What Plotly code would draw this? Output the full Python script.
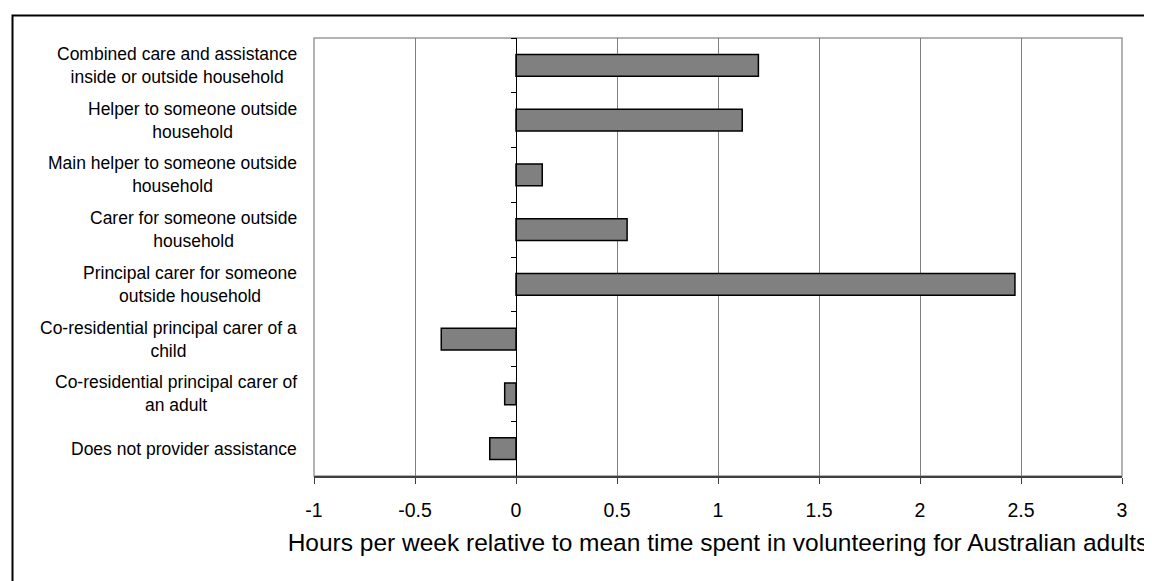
import plotly.graph_objects as go

# ---- data (top to bottom as shown) ----
categories = [
    "Combined care and assistance<br>inside or outside household",
    "Helper to someone outside<br>household",
    "Main helper to someone outside<br>household",
    "Carer for someone outside<br>household",
    "Principal carer for someone<br>outside household",
    "Co-residential principal carer of a<br>child",
    "Co-residential principal carer of<br>an adult",
    "Does not provider assistance",
]
values = [1.20, 1.12, 0.13, 0.55, 2.47, -0.37, -0.056, -0.13]
x_tick_values = [-1, -0.5, 0, 0.5, 1, 1.5, 2, 2.5, 3]
x_tick_labels = ["-1", "-0.5", "0", "0.5", "1", "1.5", "2", "2.5", "3"]
x_title = "Hours per week relative to mean time spent in volunteering for Australian adults"

W, H = 1152, 581
OFF = 8  # page body margin
L, R, T, B = 306, 38, 30, 113
pw, ph = W - L - R, H - T - B

def px_x(p):  # screen pixel -> paper x
    return (p - OFF - L) / pw

def px_y(p):  # screen pixel -> paper y
    return (H - B - (p - OFF)) / ph

FONT = "Arial, Liberation Sans, sans-serif"

fig = go.Figure()
fig.add_trace(go.Bar(
    y=categories, x=values, orientation="h",
    marker=dict(color="#808080", line=dict(color="#000000", width=1.5)),
    showlegend=False, hoverinfo="x+y",
))

annotations = []
for c in categories:
    annotations.append(dict(
        text=c, xref="paper", yref="y", x=px_x(299), y=c,
        xanchor="right", yanchor="middle", align="center", showarrow=False,
        font=dict(family=FONT, size=17.5, color="#000000"),
    ))

shapes = [
    # plot frame
    dict(type="rect", xref="paper", yref="paper", x0=0, x1=1, y0=0, y1=1,
         line=dict(color="#9a9a9a", width=1.5), layer="below"),
    # outer chart border (cut off on right/bottom)
    dict(type="rect", xref="paper", yref="paper",
         x0=px_x(12.5), x1=px_x(1180), y0=px_y(610), y1=px_y(15.5),
         line=dict(color="#000000", width=2), fillcolor="rgba(0,0,0,0)"),
]

fig.update_layout(
    width=W, height=H,
    margin=dict(l=L, r=R, t=T, b=B),
    paper_bgcolor="#ffffff", plot_bgcolor="#ffffff",
    bargap=0.6,
    font=dict(family=FONT, color="#000000"),
    annotations=annotations,
    shapes=shapes,
    xaxis=dict(
        range=[-1, 3], tickvals=x_tick_values, ticktext=x_tick_labels,
        showgrid=True, gridcolor="#7f7f7f", gridwidth=1,
        zeroline=False, showline=True, linecolor="#404040", linewidth=1.5,
        ticks="outside", ticklen=6, tickcolor="#404040", tickwidth=1,
        ticklabelstandoff=10,
        tickfont=dict(family=FONT, size=19.5, color="#000000"),
        title=dict(text=x_title, font=dict(family=FONT, size=24.5, color="#000000"), standoff=14),
        anchor="y",
    ),
    yaxis=dict(
        type="category", categoryorder="array", categoryarray=categories,
        autorange="reversed",
        showgrid=False, zeroline=False, showline=True, linecolor="#000000", linewidth=1,
        ticks="outside", tickson="boundaries", ticklen=5, tickcolor="#000000",
        showticklabels=False,
        anchor="free", position=px_x(516),
    ),
)

fig.write_html("out.html")
